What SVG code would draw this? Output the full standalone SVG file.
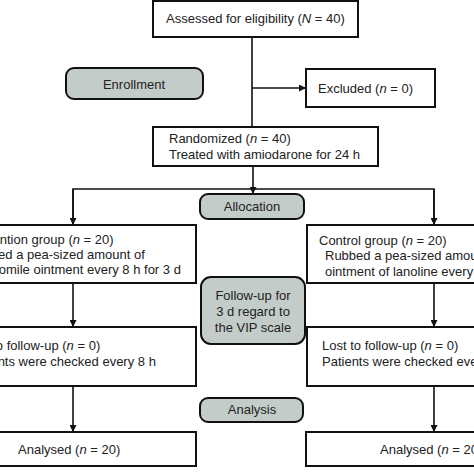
<svg xmlns="http://www.w3.org/2000/svg" width="474" height="474" viewBox="0 0 474 474">
<defs>
<marker id="ah" viewBox="0 0 10 10" refX="10" refY="5" markerWidth="7" markerHeight="7" markerUnits="userSpaceOnUse" orient="auto">
<path d="M0,0 L10,5 L0,10 z" fill="#111"/>
</marker>
<style>
.box{fill:#fff;stroke:#111;stroke-width:2}
.stage{fill:#c4ccca;stroke:#111;stroke-width:2}
.t{font-family:"Liberation Sans",Arial,sans-serif;font-size:13px;fill:#222}
.c{text-anchor:middle}
.ln{fill:none;stroke:#111;stroke-width:1.6}
.i{font-style:italic}
</style>
</defs>
<rect width="474" height="474" fill="#fff"/>
<g id="connectors">
<line class="ln" x1="252" y1="37" x2="252" y2="127"/>
<line class="ln" x1="252" y1="88" x2="306" y2="88" marker-end="url(#ah)"/>
<line class="ln" x1="253" y1="166" x2="253" y2="194" marker-end="url(#ah)"/>
<polyline class="ln" points="73,225 73,189 434,189 434,225"/>
<line class="ln" x1="73" y1="189" x2="73" y2="225" marker-end="url(#ah)"/>
<line class="ln" x1="434" y1="189" x2="434" y2="225" marker-end="url(#ah)"/>
<line class="ln" x1="73" y1="283" x2="73" y2="327" marker-end="url(#ah)"/>
<line class="ln" x1="434" y1="283" x2="434" y2="327" marker-end="url(#ah)"/>
<line class="ln" x1="73" y1="386" x2="73" y2="432" marker-end="url(#ah)"/>
<line class="ln" x1="434" y1="386" x2="434" y2="432" marker-end="url(#ah)"/>
</g>
<g id="assessed">
<rect class="box" x="153" y="1" width="205" height="36"/>
<text class="t" x="166" y="23">Assessed for eligibility (<tspan class="i">N</tspan> = 40)</text>
</g>
<g id="enrollment">
<rect class="stage" x="66" y="68" width="137" height="31" rx="8"/>
<text class="t c" x="134" y="89">Enrollment</text>
</g>
<g id="excluded">
<rect class="box" x="306" y="69" width="129" height="38"/>
<text class="t" x="318" y="93">Excluded (<tspan class="i">n</tspan> = 0)</text>
</g>
<g id="randomized">
<rect class="box" x="153" y="127" width="225" height="39"/>
<text class="t" x="169" y="143">Randomized (<tspan class="i">n</tspan> = 40)</text>
<text class="t" x="169" y="159">Treated with amiodarone for 24 h</text>
</g>
<g id="allocation">
<rect class="stage" x="200" y="194" width="104" height="25" rx="8"/>
<text class="t c" x="252" y="211">Allocation</text>
</g>
<g id="intervention">
<rect class="box" x="-52" y="225" width="248" height="58"/>
<text class="t" x="-40" y="244">Intervention group (<tspan class="i">n</tspan> = 20)</text>
<text class="t" x="-33" y="259">Rubbed a pea-sized amount of</text>
<text class="t" x="-33" y="274">chamomile ointment every 8 h for 3 d</text>
</g>
<g id="control">
<rect class="box" x="307" y="225" width="248" height="58"/>
<text class="t" x="319" y="245">Control group (<tspan class="i">n</tspan> = 20)</text>
<text class="t" x="325" y="260">Rubbed a pea-sized amount of</text>
<text class="t" x="325" y="276">ointment of lanoline every 8 h for 3 d</text>
</g>
<g id="followup">
<rect class="stage" x="201" y="277" width="104" height="67" rx="10"/>
<text class="t c" x="253" y="300">Follow-up for</text>
<text class="t c" x="253" y="316">3 d regard to</text>
<text class="t c" x="253" y="332">the VIP scale</text>
</g>
<g id="lost-left">
<rect class="box" x="-52" y="327" width="248" height="59"/>
<text class="t" x="-36" y="350">Lost to follow-up (<tspan class="i">n</tspan> = 0)</text>
<text class="t" x="-32" y="366">Patients were checked every 8 h</text>
</g>
<g id="lost-right">
<rect class="box" x="307" y="327" width="248" height="59"/>
<text class="t" x="322" y="350">Lost to follow-up (<tspan class="i">n</tspan> = 0)</text>
<text class="t" x="322" y="366">Patients were checked every 8 h</text>
</g>
<g id="analysis">
<rect class="stage" x="200" y="398" width="103" height="24" rx="8"/>
<text class="t c" x="252" y="414">Analysis</text>
</g>
<g id="analysed-left">
<rect class="box" x="-52" y="432" width="248" height="34"/>
<text class="t" x="18" y="454">Analysed (<tspan class="i">n</tspan> = 20)</text>
</g>
<g id="analysed-right">
<rect class="box" x="306" y="432" width="249" height="34"/>
<text class="t" x="380" y="454">Analysed (<tspan class="i">n</tspan> = 20)</text>
</g>
</svg>
